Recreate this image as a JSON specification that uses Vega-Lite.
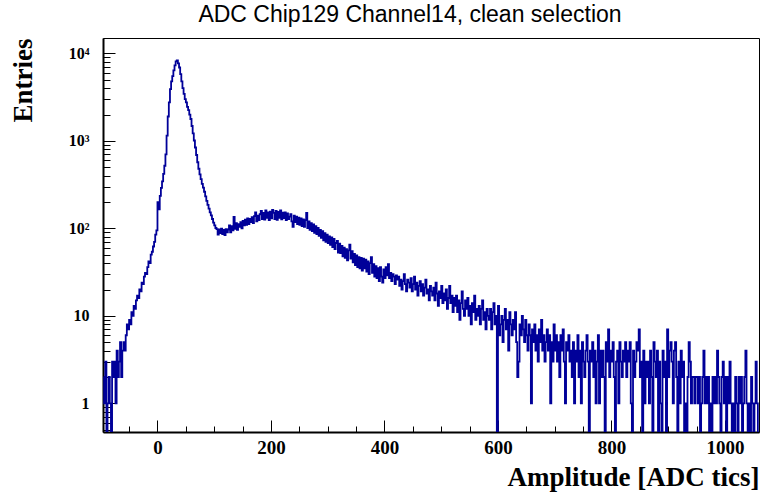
{
"$schema": "https://vega.github.io/schema/vega-lite/v6.json",
"width": 656, "height": 394,
"autosize": {"type": "none"},
"padding": {"left": 103, "top": 38, "right": 2, "bottom": 60},
"background": "white",
"title": {"text": "ADC Chip129 Channel14, clean selection", "font": "Liberation Sans", "fontSize": 23, "fontWeight": "normal", "color": "#000", "anchor": "middle", "frame": "group", "dx": -21, "dy": 19, "offset": 12, "baseline": "alphabetic"},
"config": {"view": {"stroke": "#000", "strokeWidth": 1}},
"data": {"values": [
{"x":-95,"n":2},{"x":-93,"n":1},{"x":-91,"n":3},{"x":-89,"n":0},{"x":-87,"n":1},{"x":-85,"n":2},{"x":-83,"n":1},{"x":-81,"n":0},{"x":-79,"n":3},{"x":-77,"n":2},
{"x":-75,"n":3},{"x":-73,"n":1},{"x":-71,"n":4},{"x":-69,"n":2},{"x":-67,"n":3},{"x":-65,"n":5},{"x":-63,"n":2},{"x":-61,"n":4},{"x":-59,"n":5},{"x":-57,"n":4},
{"x":-55,"n":6},{"x":-53,"n":8},{"x":-51,"n":7},{"x":-49,"n":9},{"x":-47,"n":8},{"x":-45,"n":11},{"x":-43,"n":10},{"x":-41,"n":13},{"x":-39,"n":12},{"x":-37,"n":15},
{"x":-35,"n":17},{"x":-33,"n":16},{"x":-31,"n":20},{"x":-29,"n":19},{"x":-27,"n":24},{"x":-25,"n":23},{"x":-23,"n":28},{"x":-21,"n":31},{"x":-19,"n":30},{"x":-17,"n":36},
{"x":-15,"n":42},{"x":-13,"n":40},{"x":-11,"n":50},{"x":-9,"n":54},{"x":-7,"n":62},{"x":-5,"n":70},{"x":-3,"n":85},{"x":-1,"n":95},{"x":1,"n":200},{"x":3,"n":165},
{"x":5,"n":235},{"x":7,"n":290},{"x":9,"n":345},{"x":11,"n":420},{"x":13,"n":520},{"x":15,"n":700},{"x":17,"n":1150},{"x":19,"n":1900},{"x":21,"n":2750},{"x":23,"n":3900},
{"x":25,"n":4800},{"x":27,"n":5500},{"x":29,"n":6400},{"x":31,"n":7300},{"x":33,"n":8100},{"x":35,"n":8300},{"x":37,"n":7700},{"x":39,"n":6900},{"x":41,"n":5800},{"x":43,"n":4800},
{"x":45,"n":4000},{"x":47,"n":3450},{"x":49,"n":3000},{"x":51,"n":2750},{"x":53,"n":2450},{"x":55,"n":2250},{"x":57,"n":2000},{"x":59,"n":1780},{"x":61,"n":1480},{"x":63,"n":1220},
{"x":65,"n":1010},{"x":67,"n":840},{"x":69,"n":690},{"x":71,"n":570},{"x":73,"n":480},{"x":75,"n":415},{"x":77,"n":365},{"x":79,"n":322},{"x":81,"n":292},{"x":83,"n":262},
{"x":85,"n":232},{"x":87,"n":206},{"x":89,"n":186},{"x":91,"n":168},{"x":93,"n":152},{"x":95,"n":141},{"x":97,"n":128},{"x":99,"n":116},{"x":101,"n":108},{"x":103,"n":101},
{"x":105,"n":98},{"x":107,"n":85},{"x":109,"n":97},{"x":111,"n":88},{"x":113,"n":99},{"x":115,"n":86},{"x":117,"n":96},{"x":119,"n":84},{"x":121,"n":98},{"x":123,"n":90},
{"x":125,"n":97},{"x":127,"n":108},{"x":129,"n":90},{"x":131,"n":106},{"x":133,"n":95},{"x":135,"n":135},{"x":137,"n":99},{"x":139,"n":115},{"x":141,"n":96},{"x":143,"n":112},
{"x":145,"n":104},{"x":147,"n":118},{"x":149,"n":100},{"x":151,"n":122},{"x":153,"n":108},{"x":155,"n":126},{"x":157,"n":110},{"x":159,"n":130},{"x":161,"n":112},{"x":163,"n":128},
{"x":165,"n":118},{"x":167,"n":134},{"x":169,"n":115},{"x":171,"n":138},{"x":173,"n":152},{"x":175,"n":120},{"x":177,"n":140},{"x":179,"n":124},{"x":181,"n":145},{"x":183,"n":158},
{"x":185,"n":128},{"x":187,"n":150},{"x":189,"n":126},{"x":191,"n":160},{"x":193,"n":132},{"x":195,"n":152},{"x":197,"n":124},{"x":199,"n":155},{"x":201,"n":130},{"x":203,"n":163},
{"x":205,"n":150},{"x":207,"n":128},{"x":209,"n":158},{"x":211,"n":125},{"x":213,"n":154},{"x":215,"n":132},{"x":217,"n":160},{"x":219,"n":127},{"x":221,"n":151},{"x":223,"n":131},
{"x":225,"n":152},{"x":227,"n":124},{"x":229,"n":148},{"x":231,"n":128},{"x":233,"n":136},{"x":235,"n":145},{"x":237,"n":120},{"x":239,"n":104},{"x":241,"n":140},{"x":243,"n":118},
{"x":245,"n":136},{"x":247,"n":112},{"x":249,"n":133},{"x":251,"n":110},{"x":253,"n":130},{"x":255,"n":106},{"x":257,"n":127},{"x":259,"n":104},{"x":261,"n":124},{"x":263,"n":150},
{"x":265,"n":101},{"x":267,"n":120},{"x":269,"n":96},{"x":271,"n":115},{"x":273,"n":93},{"x":275,"n":111},{"x":277,"n":89},{"x":279,"n":106},{"x":281,"n":86},{"x":283,"n":101},
{"x":285,"n":82},{"x":287,"n":96},{"x":289,"n":78},{"x":291,"n":93},{"x":293,"n":73},{"x":295,"n":88},{"x":297,"n":70},{"x":299,"n":85},{"x":301,"n":68},{"x":303,"n":81},
{"x":305,"n":65},{"x":307,"n":79},{"x":309,"n":61},{"x":311,"n":76},{"x":313,"n":58},{"x":315,"n":68},{"x":317,"n":72},{"x":319,"n":53},{"x":321,"n":67},{"x":323,"n":52},
{"x":325,"n":63},{"x":327,"n":48},{"x":329,"n":60},{"x":331,"n":46},{"x":333,"n":58},{"x":335,"n":43},{"x":337,"n":56},{"x":339,"n":65},{"x":341,"n":45},{"x":343,"n":55},
{"x":345,"n":41},{"x":347,"n":51},{"x":349,"n":38},{"x":351,"n":49},{"x":353,"n":36},{"x":355,"n":47},{"x":357,"n":35},{"x":359,"n":46},{"x":361,"n":33},{"x":363,"n":45},
{"x":365,"n":35},{"x":367,"n":44},{"x":369,"n":32},{"x":371,"n":42},{"x":373,"n":30},{"x":375,"n":40},{"x":377,"n":47},{"x":379,"n":31},{"x":381,"n":39},{"x":383,"n":28},
{"x":385,"n":37},{"x":387,"n":27},{"x":389,"n":35},{"x":391,"n":25},{"x":393,"n":36},{"x":395,"n":28},{"x":397,"n":24},{"x":399,"n":34},{"x":401,"n":27},{"x":403,"n":36},
{"x":405,"n":29},{"x":407,"n":39},{"x":409,"n":27},{"x":411,"n":31},{"x":413,"n":25},{"x":415,"n":30},{"x":417,"n":28},{"x":419,"n":23},{"x":421,"n":29},{"x":423,"n":26},
{"x":425,"n":28},{"x":427,"n":22},{"x":429,"n":26},{"x":431,"n":20},{"x":433,"n":25},{"x":435,"n":30},{"x":437,"n":23},{"x":439,"n":19},{"x":441,"n":26},{"x":443,"n":24},
{"x":445,"n":21},{"x":447,"n":27},{"x":449,"n":19},{"x":451,"n":23},{"x":453,"n":28},{"x":455,"n":20},{"x":457,"n":24},{"x":459,"n":17},{"x":461,"n":22},{"x":463,"n":25},
{"x":465,"n":19},{"x":467,"n":23},{"x":469,"n":17},{"x":471,"n":21},{"x":473,"n":26},{"x":475,"n":18},{"x":477,"n":20},{"x":479,"n":15},{"x":481,"n":22},{"x":483,"n":19},
{"x":485,"n":17},{"x":487,"n":21},{"x":489,"n":15},{"x":491,"n":24},{"x":493,"n":18},{"x":495,"n":13},{"x":497,"n":19},{"x":499,"n":16},{"x":501,"n":22},{"x":503,"n":14},
{"x":505,"n":18},{"x":507,"n":15},{"x":509,"n":20},{"x":511,"n":12},{"x":513,"n":16},{"x":515,"n":22},{"x":517,"n":14},{"x":519,"n":17},{"x":521,"n":11},{"x":523,"n":16},
{"x":525,"n":13},{"x":527,"n":17},{"x":529,"n":11},{"x":531,"n":15},{"x":533,"n":9},{"x":535,"n":14},{"x":537,"n":19},{"x":539,"n":12},{"x":541,"n":10},{"x":543,"n":15},
{"x":545,"n":12},{"x":547,"n":16},{"x":549,"n":10},{"x":551,"n":13},{"x":553,"n":8},{"x":555,"n":14},{"x":557,"n":11},{"x":559,"n":17},{"x":561,"n":9},{"x":563,"n":12},
{"x":565,"n":10},{"x":567,"n":13},{"x":569,"n":8},{"x":571,"n":12},{"x":573,"n":15},{"x":575,"n":9},{"x":577,"n":11},{"x":579,"n":7},{"x":581,"n":12},{"x":583,"n":10},
{"x":585,"n":9},{"x":587,"n":12},{"x":589,"n":7},{"x":591,"n":11},{"x":593,"n":14},{"x":595,"n":8},{"x":597,"n":10},{"x":599,"n":0},{"x":601,"n":13},{"x":603,"n":6},
{"x":605,"n":8},{"x":607,"n":10},{"x":609,"n":5},{"x":611,"n":9},{"x":613,"n":12},{"x":615,"n":7},{"x":617,"n":9},{"x":619,"n":4},{"x":621,"n":11},{"x":623,"n":8},
{"x":625,"n":6},{"x":627,"n":9},{"x":629,"n":7},{"x":631,"n":11},{"x":633,"n":5},{"x":635,"n":2},{"x":637,"n":3},{"x":639,"n":8},{"x":641,"n":6},{"x":643,"n":10},
{"x":645,"n":7},{"x":647,"n":5},{"x":649,"n":9},{"x":651,"n":6},{"x":653,"n":4},{"x":655,"n":8},{"x":657,"n":6},{"x":659,"n":1},{"x":661,"n":7},{"x":663,"n":5},
{"x":665,"n":8},{"x":667,"n":4},{"x":669,"n":6},{"x":671,"n":3},{"x":673,"n":7},{"x":675,"n":5},{"x":677,"n":9},{"x":679,"n":4},{"x":681,"n":6},{"x":683,"n":3},
{"x":685,"n":5},{"x":687,"n":7},{"x":689,"n":4},{"x":691,"n":6},{"x":693,"n":1},{"x":695,"n":5},{"x":697,"n":3},{"x":699,"n":8},{"x":701,"n":4},{"x":703,"n":6},
{"x":705,"n":3},{"x":707,"n":5},{"x":709,"n":2},{"x":711,"n":6},{"x":713,"n":4},{"x":715,"n":7},{"x":717,"n":3},{"x":719,"n":1},{"x":721,"n":5},{"x":723,"n":4},
{"x":725,"n":6},{"x":727,"n":3},{"x":729,"n":4},{"x":731,"n":2},{"x":733,"n":5},{"x":735,"n":1},{"x":737,"n":4},{"x":739,"n":3},{"x":741,"n":6},{"x":743,"n":2},
{"x":745,"n":4},{"x":747,"n":1},{"x":749,"n":5},{"x":751,"n":3},{"x":753,"n":2},{"x":755,"n":4},{"x":757,"n":6},{"x":759,"n":3},{"x":761,"n":0},{"x":763,"n":4},
{"x":765,"n":3},{"x":767,"n":5},{"x":769,"n":2},{"x":771,"n":4},{"x":773,"n":1},{"x":775,"n":3},{"x":777,"n":6},{"x":779,"n":1},{"x":781,"n":4},{"x":783,"n":2},
{"x":785,"n":4},{"x":787,"n":2},{"x":789,"n":0},{"x":791,"n":5},{"x":793,"n":3},{"x":795,"n":7},{"x":797,"n":2},{"x":799,"n":4},{"x":801,"n":3},{"x":803,"n":5},
{"x":805,"n":2},{"x":807,"n":0},{"x":809,"n":3},{"x":811,"n":4},{"x":813,"n":1},{"x":815,"n":5},{"x":817,"n":3},{"x":819,"n":2},{"x":821,"n":4},{"x":823,"n":3},
{"x":825,"n":5},{"x":827,"n":2},{"x":829,"n":4},{"x":831,"n":3},{"x":833,"n":5},{"x":835,"n":1},{"x":837,"n":0},{"x":839,"n":4},{"x":841,"n":2},{"x":843,"n":3},
{"x":845,"n":5},{"x":847,"n":4},{"x":849,"n":7},{"x":851,"n":2},{"x":853,"n":3},{"x":855,"n":0},{"x":857,"n":4},{"x":859,"n":1},{"x":861,"n":3},{"x":863,"n":2},
{"x":865,"n":3},{"x":867,"n":1},{"x":869,"n":4},{"x":871,"n":2},{"x":873,"n":0},{"x":875,"n":5},{"x":877,"n":3},{"x":879,"n":2},{"x":881,"n":4},{"x":883,"n":0},
{"x":885,"n":3},{"x":887,"n":1},{"x":889,"n":0},{"x":891,"n":4},{"x":893,"n":2},{"x":895,"n":3},{"x":897,"n":0},{"x":899,"n":7},{"x":901,"n":2},{"x":903,"n":4},
{"x":905,"n":5},{"x":907,"n":3},{"x":909,"n":1},{"x":911,"n":4},{"x":913,"n":5},{"x":915,"n":2},{"x":917,"n":0},{"x":919,"n":3},{"x":921,"n":1},{"x":923,"n":4},
{"x":925,"n":2},{"x":927,"n":3},{"x":929,"n":0},{"x":931,"n":1},{"x":933,"n":0},{"x":935,"n":2},{"x":937,"n":5},{"x":939,"n":3},{"x":941,"n":1},{"x":943,"n":2},
{"x":945,"n":2},{"x":947,"n":1},{"x":949,"n":2},{"x":951,"n":2},{"x":953,"n":1},{"x":955,"n":2},{"x":957,"n":0},{"x":959,"n":1},{"x":961,"n":2},{"x":963,"n":4},
{"x":965,"n":1},{"x":967,"n":2},{"x":969,"n":1},{"x":971,"n":2},{"x":973,"n":0},{"x":975,"n":1},{"x":977,"n":0},{"x":979,"n":2},{"x":981,"n":1},{"x":983,"n":2},
{"x":985,"n":1},{"x":987,"n":4},{"x":989,"n":2},{"x":991,"n":1},{"x":993,"n":0},{"x":995,"n":2},{"x":997,"n":3},{"x":999,"n":1},{"x":1001,"n":2},{"x":1003,"n":0},
{"x":1005,"n":2},{"x":1007,"n":1},{"x":1009,"n":3},{"x":1011,"n":1},{"x":1013,"n":0},{"x":1015,"n":1},{"x":1017,"n":0},{"x":1019,"n":2},{"x":1021,"n":1},{"x":1023,"n":0},
{"x":1025,"n":2},{"x":1027,"n":1},{"x":1029,"n":2},{"x":1031,"n":0},{"x":1033,"n":1},{"x":1035,"n":2},{"x":1037,"n":4},{"x":1039,"n":1},{"x":1041,"n":0},{"x":1043,"n":1},
{"x":1045,"n":0},{"x":1047,"n":2},{"x":1049,"n":1},{"x":1051,"n":0},{"x":1053,"n":1},{"x":1055,"n":3},{"x":1057,"n":1},{"x":1059,"n":0}
]},
"layer": [
{"mark": {"type": "line", "interpolate": "step", "color": "#000099", "strokeWidth": 1.8, "invalid": "show", "clip": true},
 "encoding": {
  "x": {"field": "x", "type": "quantitative",
        "scale": {"domain": [-96, 1060], "nice": false, "zero": false},
        "axis": {"orient": "bottom", "values": [0,200,400,600,800,1000], "format": "d", "grid": false,
                 "tickSize": -12, "tickColor": "#000", "tickWidth": 1,
                 "domainColor": "#000", "domainWidth": 2,
                 "labelFont": "Liberation Serif", "labelFontWeight": "bold", "labelFontSize": 19, "labelColor": "#000",
                 "labelPadding": 18, "labelBaseline": "top", "labelFlush": false, "labelOverlap": false,
                 "title": "Amplitude [ADC tics]", "titleFont": "Liberation Serif", "titleFontWeight": "bold", "titleFontSize": 27, "titleColor": "#000",
                 "titleAnchor": "end", "titleAlign": "right", "titleX": 656, "titleY": 53, "titleBaseline": "alphabetic"}},
  "y": {"field": "n", "type": "quantitative",
        "scale": {"type": "log", "domain": [0.47, 15000], "nice": false, "clamp": true},
        "axis": {"orient": "left", "values": [1,10,100,1000,10000], "grid": false,
                 "labelExpr": "datum.value == 1 ? '1' : datum.value == 10 ? '10' : datum.value == 100 ? '10²' : datum.value == 1000 ? '10³' : datum.value == 10000 ? '10⁴' : ''",
                 "tickSize": -12, "tickColor": "#000", "tickWidth": 1,
                 "domainColor": "#000", "domainWidth": 2,
                 "labelFont": "Liberation Serif", "labelFontWeight": "bold", "labelFontSize": 16, "labelColor": "#000",
                 "labelPadding": 26, "labelBaseline": "middle", "labelFlush": false, "labelOverlap": false,
                 "title": "Entries", "titleFont": "Liberation Serif", "titleFontWeight": "bold", "titleFontSize": 27, "titleColor": "#000",
                 "titleAngle": -90, "titleX": -80, "titleY": 0, "titleAlign": "right", "titleBaseline": "middle"}}
 }},
{"mark": {"type": "line", "interpolate": "step", "opacity": 0, "invalid": "show"},
 "encoding": {
  "x": {"field": "x", "type": "quantitative",
        "axis": {"orient": "bottom", "values": [-50,0,50,100,150,200,250,300,350,400,450,500,550,600,650,700,750,800,850,900,950,1000,1050],
                 "grid": false, "labels": false, "domain": false, "title": null,
                 "tickSize": -6, "tickColor": "#000", "tickWidth": 1}},
  "y": {"field": "n", "type": "quantitative",
        "axis": {"orient": "left", "values": [0.5,0.6,0.7,0.8,0.9,2,3,4,5,6,7,8,9,20,30,40,50,60,70,80,90,200,300,400,500,600,700,800,900,2000,3000,4000,5000,6000,7000,8000,9000],
                 "grid": false, "labels": false, "domain": false, "title": null,
                 "tickSize": -7, "tickColor": "#000", "tickWidth": 1}}
 }}
],
"resolve": {"axis": {"x": "independent", "y": "independent"}}
}
